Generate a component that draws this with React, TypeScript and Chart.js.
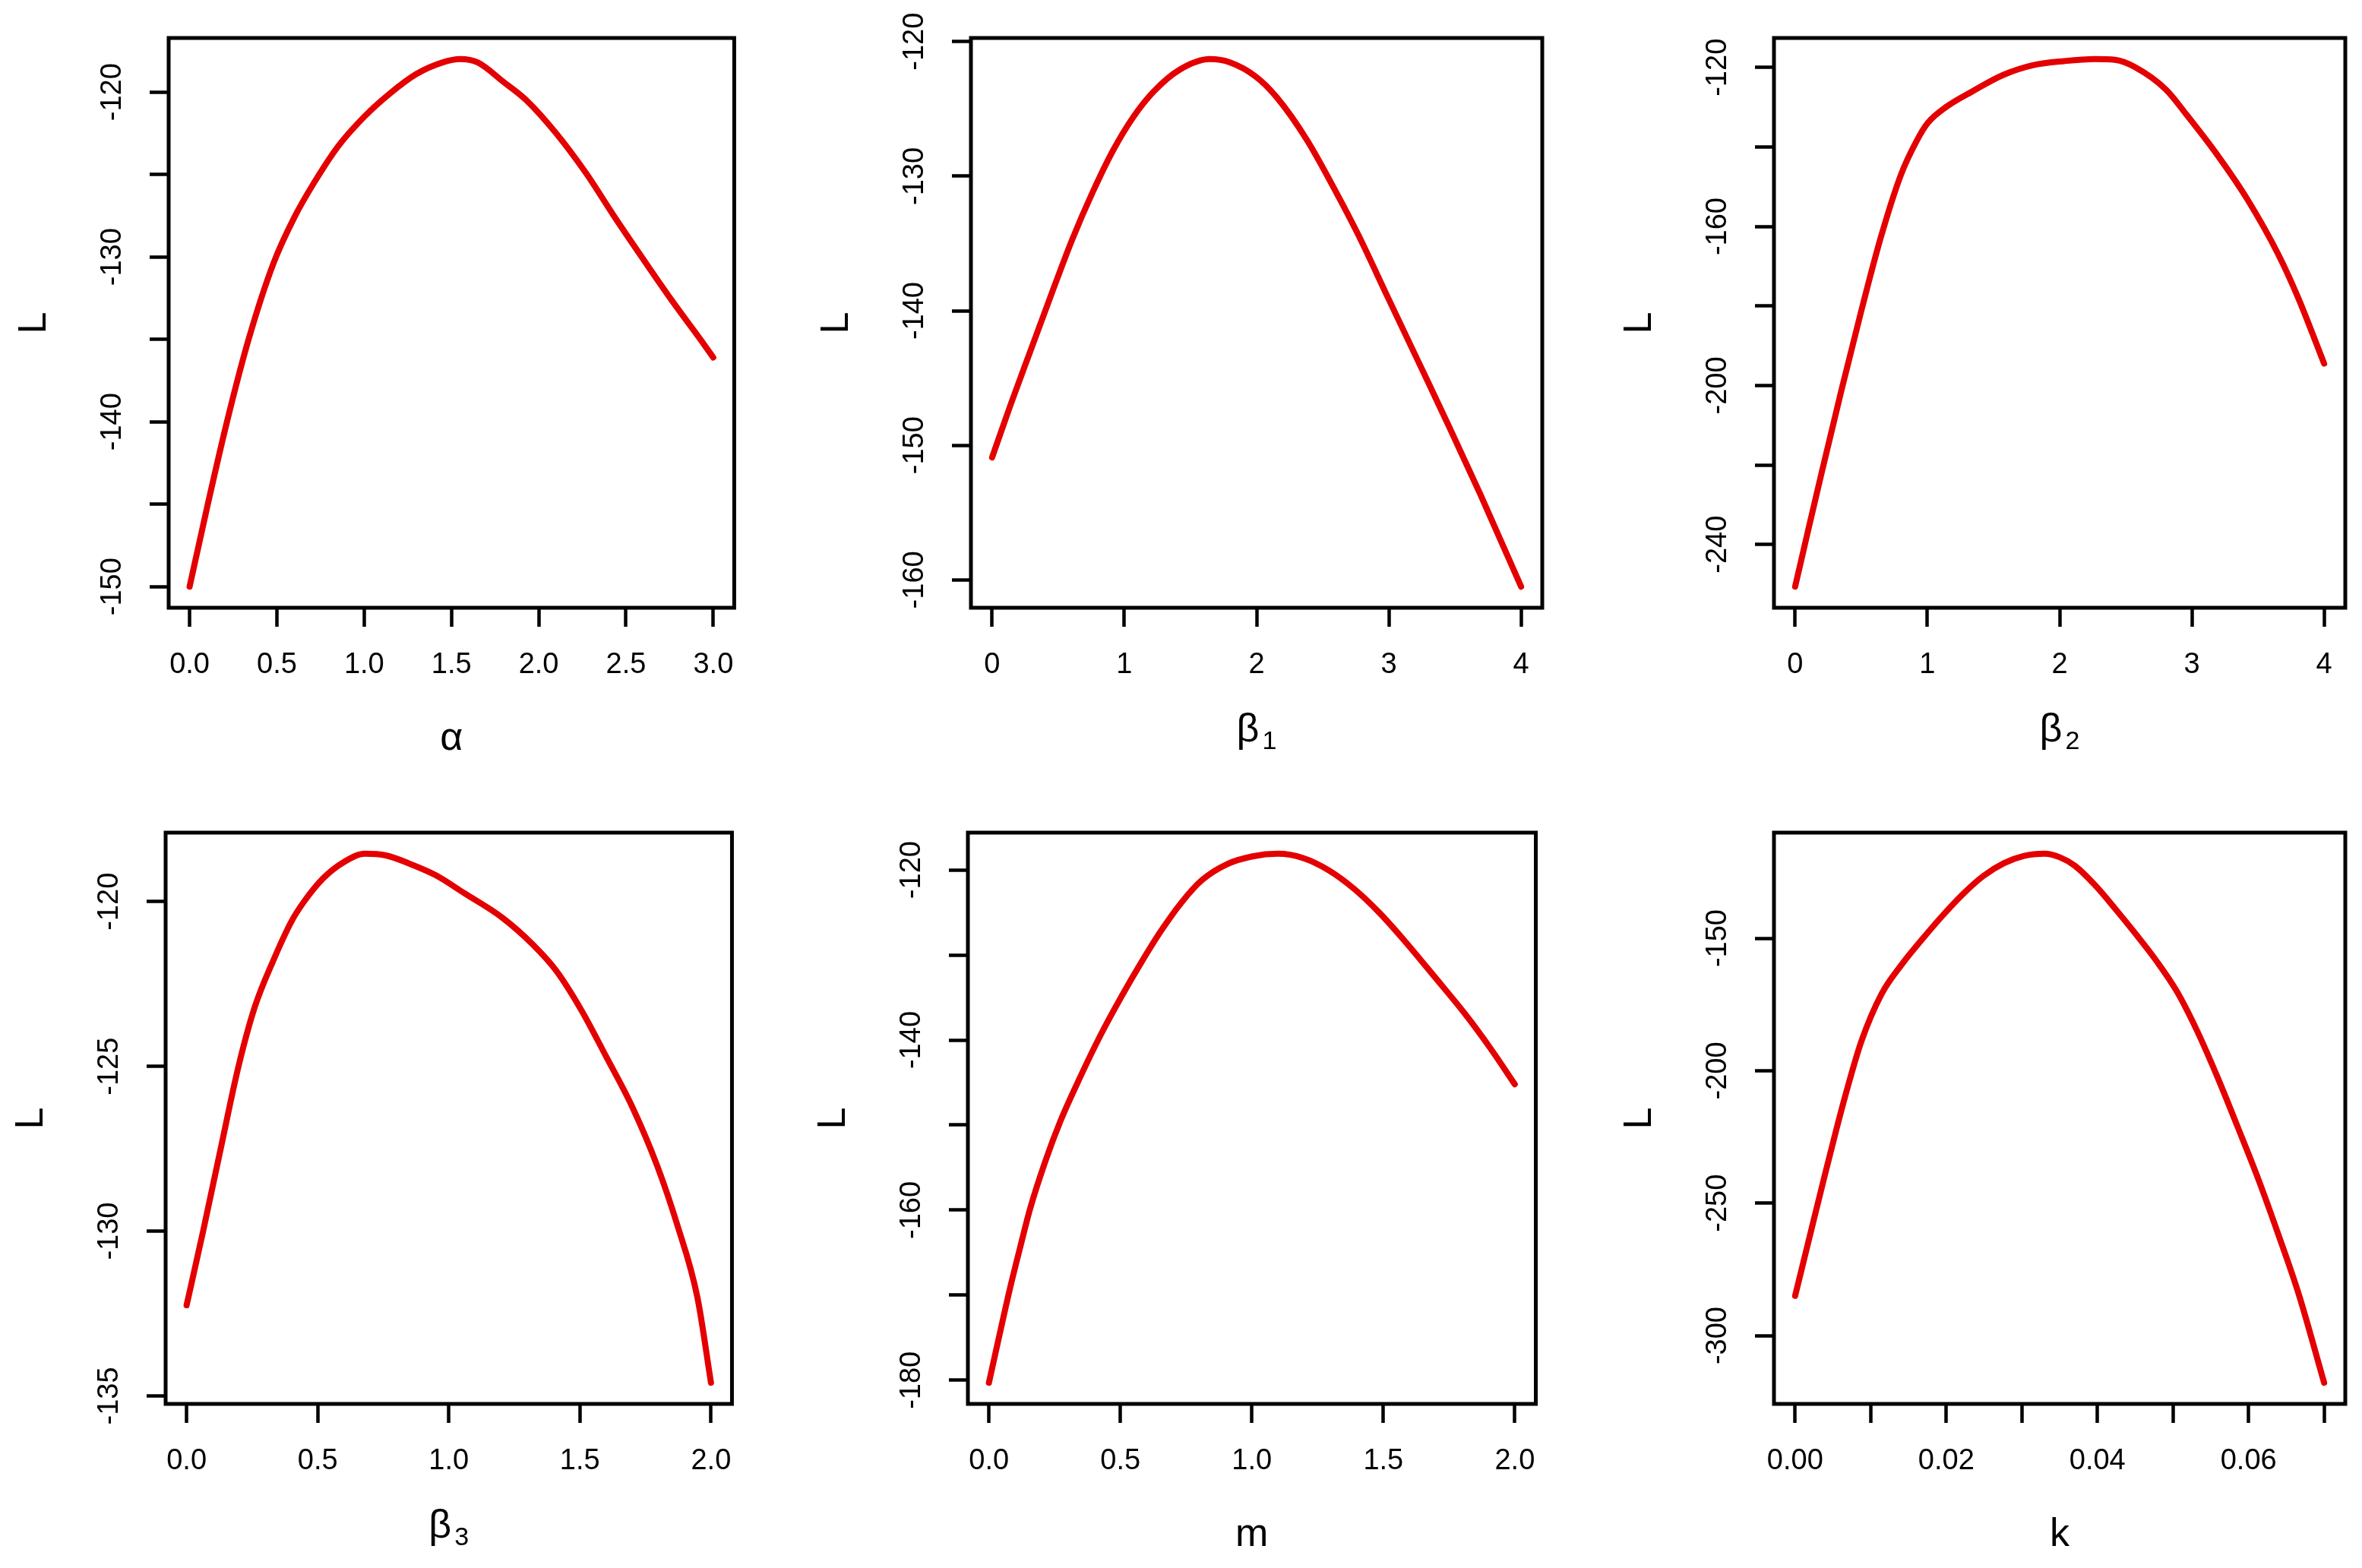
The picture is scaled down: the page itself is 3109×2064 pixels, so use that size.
import React, { useEffect, useRef } from "react";
import { Chart, registerables } from "chart.js";

Chart.register(...registerables);

const FONT = "'Liberation Sans', Arial, sans-serif";
const RED = "rgb(228,0,0)";

// ---- Panel 1: alpha ----
const ALPHA_X = [0, 0.1, 0.214, 0.338, 0.48, 0.6, 0.713, 0.85, 1.0, 1.146, 1.3, 1.45, 1.55, 1.65, 1.8, 1.93, 2.1, 2.27, 2.43, 2.59, 2.76, 2.933, 3.0];
const ALPHA_L = [-150.0, -145.2, -140.0, -135.0, -130.4, -127.6, -125.5, -123.3, -121.5, -120.1, -118.9, -118.2, -118.0, -118.2, -119.4, -120.5, -122.5, -124.9, -127.5, -130.0, -132.6, -135.1, -136.1];
const ALPHA_XTICKS = [0, 0.5, 1, 1.5, 2, 2.5, 3];
const ALPHA_XLABELS = ["0.0", "0.5", "1.0", "1.5", "2.0", "2.5", "3.0"];
const ALPHA_YTICKS = [-150, -145, -140, -135, -130, -125, -120];
const ALPHA_YLABELS = ["-150", "", "-140", "", "-130", "", "-120"];

// ---- Panel 2: beta1 ----
const BETA1_X = [0, 0.143, 0.297, 0.451, 0.606, 0.76, 0.914, 1.068, 1.223, 1.416, 1.647, 1.8, 1.994, 2.149, 2.38, 2.61, 2.766, 2.997, 3.229, 3.46, 3.69, 4.0];
const BETA1_L = [-150.9, -146.9, -142.8, -138.7, -134.7, -131.2, -128.1, -125.6, -123.7, -122.1, -121.3, -121.55, -122.6, -124.1, -127.3, -131.35, -134.3, -139.1, -143.9, -148.7, -153.6, -160.5];
const BETA1_XTICKS = [0, 1, 2, 3, 4];
const BETA1_XLABELS = ["0", "1", "2", "3", "4"];
const BETA1_YTICKS = [-160, -150, -140, -130, -120];
const BETA1_YLABELS = ["-160", "-150", "-140", "-130", "-120"];

// ---- Panel 3: beta2 ----
const BETA2_X = [0, 0.1, 0.2, 0.35, 0.505, 0.65, 0.8, 0.917, 1.002, 1.148, 1.341, 1.572, 1.803, 2.035, 2.266, 2.42, 2.574, 2.805, 2.96, 3.19, 3.42, 3.653, 3.807, 4.0];
const BETA2_L = [-250.6, -236.2, -222.0, -201.2, -180.6, -162.5, -147.0, -138.6, -134.0, -129.8, -126.0, -121.9, -119.4, -118.4, -117.9, -118.1, -120.0, -125.6, -131.9, -141.9, -153.2, -167.0, -178.2, -194.5];
const BETA2_XTICKS = [0, 1, 2, 3, 4];
const BETA2_XLABELS = ["0", "1", "2", "3", "4"];
const BETA2_YTICKS = [-240, -220, -200, -180, -160, -140, -120];
const BETA2_YLABELS = ["-240", "", "-200", "", "-160", "", "-120"];

// ---- Panel 4: beta3 ----
const BETA3_X = [0, 0.063, 0.13, 0.198, 0.26, 0.33, 0.4, 0.448, 0.52, 0.6, 0.68, 0.76, 0.85, 0.95, 1.06, 1.206, 1.32, 1.41, 1.506, 1.6, 1.698, 1.794, 1.871, 1.948, 2.0];
const BETA3_L = [-132.25, -130.0, -127.5, -125.0, -123.2, -121.8, -120.6, -120.0, -119.3, -118.8, -118.55, -118.6, -118.85, -119.2, -119.75, -120.5, -121.3, -122.1, -123.3, -124.7, -126.2, -128.0, -129.8, -132.0, -134.6];
const BETA3_XTICKS = [0, 0.5, 1, 1.5, 2];
const BETA3_XLABELS = ["0.0", "0.5", "1.0", "1.5", "2.0"];
const BETA3_YTICKS = [-135, -130, -125, -120];
const BETA3_YLABELS = ["-135", "-130", "-125", "-120"];

// ---- Panel 5: m ----
const M_X = [0, 0.04, 0.079, 0.117, 0.156, 0.214, 0.271, 0.348, 0.425, 0.502, 0.579, 0.656, 0.733, 0.81, 0.907, 1.003, 1.099, 1.195, 1.29, 1.388, 1.484, 1.58, 1.696, 1.81, 1.908, 2.0];
const M_L = [-180.3, -174.7, -169.35, -164.6, -159.9, -154.3, -149.6, -144.3, -139.4, -135.0, -130.9, -127.1, -123.8, -121.2, -119.3, -118.4, -118.1, -118.6, -120.0, -122.2, -125.0, -128.3, -132.6, -136.9, -141.0, -145.2];
const M_XTICKS = [0, 0.5, 1, 1.5, 2];
const M_XLABELS = ["0.0", "0.5", "1.0", "1.5", "2.0"];
const M_YTICKS = [-180, -170, -160, -150, -140, -130, -120];
const M_YLABELS = ["-180", "", "-160", "", "-140", "", "-120"];

// ---- Panel 6: k ----
const K_X = [0, 0.00135, 0.0027, 0.004, 0.0054, 0.0067, 0.00875, 0.01144, 0.01413, 0.01683, 0.01952, 0.02221, 0.0249, 0.0276, 0.0303, 0.033, 0.035, 0.037, 0.0397, 0.0424, 0.0451, 0.0478, 0.0505, 0.0532, 0.0559, 0.0586, 0.0613, 0.0639, 0.0666, 0.07];
const K_L = [-285.0, -269.3, -253.6, -238.6, -222.8, -208.8, -189.0, -171.0, -159.8, -150.3, -141.4, -133.3, -126.5, -121.7, -118.9, -118.1, -119.4, -122.6, -130.0, -139.0, -148.5, -158.5, -170.0, -185.0, -202.5, -221.5, -241.0, -261.5, -284.0, -317.8];
const K_XTICKS = [0, 0.01, 0.02, 0.03, 0.04, 0.05, 0.06, 0.07];
const K_XLABELS = ["0.00", "", "0.02", "", "0.04", "", "0.06", ""];
const K_YTICKS = [-300, -250, -200, -150];
const K_YLABELS = ["-300", "-250", "-200", "-150"];

type Spec = {
  box: [number, number, number, number];
  xs: number[];
  ys: number[];
  xTicks: number[];
  xLabels: string[];
  yTicks: number[];
  yLabels: string[];
  title: string;
  sub?: string;
};

const PANELS: Spec[] = [
  { box: [222, 50, 974, 800], xs: ALPHA_X, ys: ALPHA_L, xTicks: ALPHA_XTICKS, xLabels: ALPHA_XLABELS, yTicks: ALPHA_YTICKS, yLabels: ALPHA_YLABELS, title: "α" },
  { box: [1278, 50, 2030, 800], xs: BETA1_X, ys: BETA1_L, xTicks: BETA1_XTICKS, xLabels: BETA1_XLABELS, yTicks: BETA1_YTICKS, yLabels: BETA1_YLABELS, title: "β", sub: "1" },
  { box: [2335, 50, 3087, 800], xs: BETA2_X, ys: BETA2_L, xTicks: BETA2_XTICKS, xLabels: BETA2_XLABELS, yTicks: BETA2_YTICKS, yLabels: BETA2_YLABELS, title: "β", sub: "2" },
  { box: [218, 1096, 971, 1848], xs: BETA3_X, ys: BETA3_L, xTicks: BETA3_XTICKS, xLabels: BETA3_XLABELS, yTicks: BETA3_YTICKS, yLabels: BETA3_YLABELS, title: "β", sub: "3" },
  { box: [1274, 1096, 2029, 1848], xs: M_X, ys: M_L, xTicks: M_XTICKS, xLabels: M_XLABELS, yTicks: M_YTICKS, yLabels: M_YLABELS, title: "m" },
  { box: [2335, 1096, 3087, 1848], xs: K_X, ys: K_L, xTicks: K_XTICKS, xLabels: K_XLABELS, yTicks: K_YTICKS, yLabels: K_YLABELS, title: "k" },
];

const PAD_L = 230;
const PAD_T = 45;
const PAD_R = 20;
const PAD_B = 215;

function extendRange(v: number[]): [number, number] {
  const lo = Math.min(...v);
  const hi = Math.max(...v);
  const d = (hi - lo) * 0.04;
  return [lo - d, hi + d];
}

function Panel({ spec }: { spec: Spec }) {
  const ref = useRef<HTMLCanvasElement>(null);
  const [L, T, R, B] = spec.box;
  const w = R - L + PAD_L + PAD_R;
  const h = B - T + PAD_T + PAD_B;

  useEffect(() => {
    if (!ref.current) return;
    const [xmin, xmax] = extendRange(spec.xs);
    const [ymin, ymax] = extendRange(spec.ys);

    const boxPlugin = {
      id: "rbox",
      afterDatasetsDraw(chart: any) {
        const { ctx, chartArea } = chart;
        ctx.save();
        ctx.strokeStyle = "#000";
        ctx.lineWidth = 5;
        ctx.strokeRect(chartArea.left, chartArea.top, chartArea.right - chartArea.left, chartArea.bottom - chartArea.top);
        ctx.restore();
      },
    };

    const xTitlePlugin = {
      id: "xtitle",
      afterDraw(chart: any) {
        const { ctx, chartArea } = chart;
        const cx = (chartArea.left + chartArea.right) / 2;
        const bottom = chartArea.bottom;
        ctx.save();
        ctx.fillStyle = "#000";
        ctx.textBaseline = "alphabetic";
        if (spec.sub) {
          const mainFont = `52px ${FONT}`;
          const subFont = `34px ${FONT}`;
          ctx.font = mainFont;
          const w1 = ctx.measureText(spec.title).width;
          ctx.font = subFont;
          const w2 = ctx.measureText(spec.sub).width;
          const gap = 4;
          const start = cx - (w1 + gap + w2) / 2;
          ctx.textAlign = "left";
          ctx.font = mainFont;
          ctx.fillText(spec.title, start, bottom + 176);
          ctx.font = subFont;
          ctx.fillText(spec.sub, start + w1 + gap, bottom + 186);
        } else {
          ctx.textAlign = "center";
          ctx.font = `52px ${FONT}`;
          ctx.fillText(spec.title, cx, bottom + 187);
        }
        ctx.restore();
      },
    };

    const tickFont = { family: FONT, size: 38 };
    const gridOpts = {
      display: true,
      drawOnChartArea: false,
      drawTicks: true,
      tickLength: 25,
      tickWidth: 4.5,
      tickColor: "#000",
    };

    const chart = new Chart(ref.current, {
      type: "line",
      data: {
        datasets: [
          {
            data: spec.xs.map((x, i) => ({ x, y: spec.ys[i] })),
            borderColor: RED,
            borderWidth: 8,
            pointRadius: 0,
            fill: false,
            cubicInterpolationMode: "monotone",
            borderCapStyle: "round",
            borderJoinStyle: "round",
          },
        ],
      },
      options: {
        animation: false,
        responsive: false,
        maintainAspectRatio: false,
        devicePixelRatio: 1,
        layout: { padding: { top: PAD_T, right: PAD_R, left: 0, bottom: 0 } },
        plugins: { legend: { display: false }, tooltip: { enabled: false }, title: { display: false } },
        scales: {
          x: {
            type: "linear",
            min: xmin,
            max: xmax,
            bounds: "data",
            grid: gridOpts,
            border: { display: false },
            ticks: {
              font: tickFont,
              color: "#000",
              padding: 28,
              autoSkip: false,
              maxRotation: 0,
              minRotation: 0,
              callback: (_v: any, i: number) => spec.xLabels[i],
            },
            afterBuildTicks: (scale: any) => {
              scale.ticks = spec.xTicks.map((v) => ({ value: v }));
            },
            afterFit: (scale: any) => {
              scale.height = PAD_B;
            },
          },
          y: {
            type: "linear",
            min: ymin,
            max: ymax,
            bounds: "data",
            grid: gridOpts,
            border: { display: false },
            title: {
              display: true,
              text: "L",
              color: "#000",
              font: { family: FONT, size: 52 },
              padding: { top: 22, bottom: 0 },
            },
            ticks: {
              font: tickFont,
              color: "#000",
              padding: 10,
              autoSkip: false,
              minRotation: 90,
              maxRotation: 90,
              crossAlign: "center",
              callback: (_v: any, i: number) => spec.yLabels[i],
            },
            afterBuildTicks: (scale: any) => {
              scale.ticks = spec.yTicks.map((v) => ({ value: v }));
            },
            afterFit: (scale: any) => {
              scale.width = PAD_L;
            },
          },
        },
      } as any,
      plugins: [boxPlugin, xTitlePlugin],
    } as any);
    return () => chart.destroy();
  }, []);

  return (
    <canvas
      ref={ref}
      width={w}
      height={h}
      style={{ position: "absolute", left: L - PAD_L, top: T - PAD_T, width: w, height: h, display: "block" }}
    />
  );
}

export default function App() {
  return (
    <div
      style={{
        position: "absolute",
        left: 0,
        top: 0,
        width: 3109,
        height: 2064,
        background: "#fff",
        overflow: "hidden",
      }}
    >
      {PANELS.map((p, i) => (
        <Panel key={i} spec={p} />
      ))}
    </div>
  );
}
